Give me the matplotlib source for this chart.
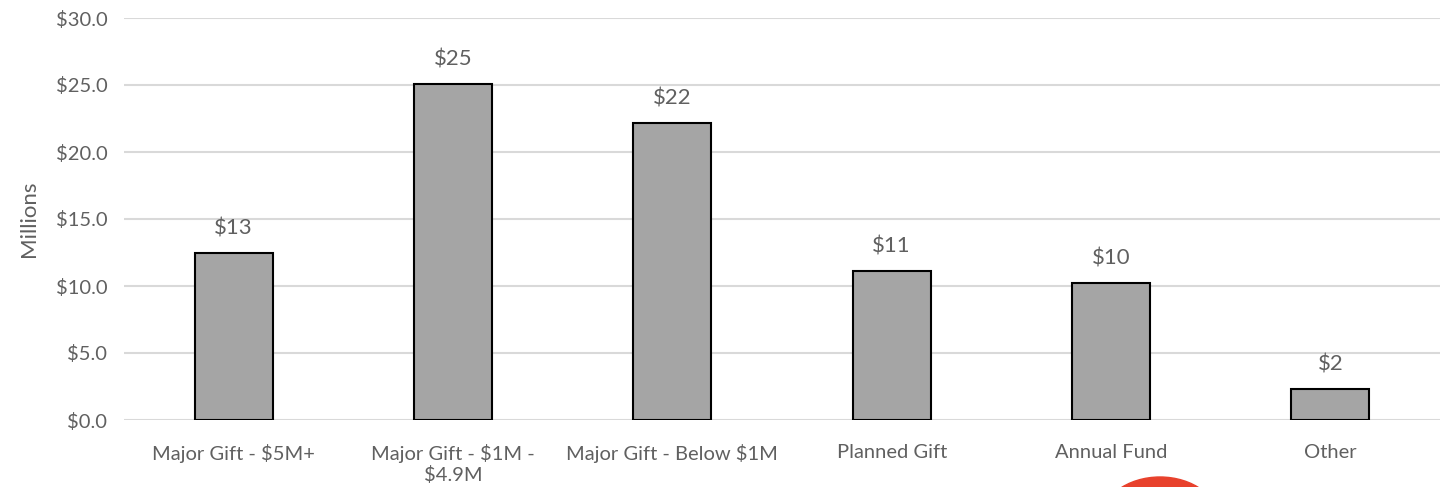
import matplotlib.pyplot as plt
from matplotlib.patches import Ellipse
import numpy as np

plt.rcParams['text.parse_math'] = False
plt.rcParams['font.family'] = ['Lato', 'DejaVu Sans']

categories = ['Major Gift - $5M+', 'Major Gift - $1M -\n$4.9M', 'Major Gift - Below $1M',
              'Planned Gift', 'Annual Fund', 'Other']
values = [12.45, 25.05, 22.15, 11.1, 10.2, 2.3]
labels = ['$13', '$25', '$22', '$11', '$10', '$2']
yticks = np.arange(0, 31, 5)

text_color = '#606060'

fig = plt.figure(figsize=(14.4, 4.87), dpi=100)
ax = fig.add_axes([124 / 1440, (487 - 420) / 487, 1316 / 1440, 402 / 487])

x = np.arange(len(categories))
ax.bar(x, values, width=0.355, color='#a5a5a5', edgecolor='black', linewidth=1.5, zorder=3)

for xi, v, lab in zip(x, values, labels):
    ax.text(xi, v + 1.1, lab, ha='center', va='bottom', fontsize=16, color=text_color)

ax.set_xlim(-0.5, len(categories) - 0.5)
ax.set_ylim(0, 30)
ax.set_yticks(yticks)
ax.set_yticklabels([f'${t:.1f}' for t in yticks])
ax.set_xticks(x)
ax.set_xticklabels(categories, linespacing=1.25)
ax.tick_params(axis='both', length=0, labelsize=14.5, colors=text_color)
ax.tick_params(axis='x', pad=17)
ax.tick_params(axis='y', pad=12)
ax.yaxis.grid(True, color='#d9d9d9', linewidth=1.5, zorder=0)
for spine in ax.spines.values():
    spine.set_visible(False)
ax.set_ylabel('Millions', fontsize=16, color=text_color, labelpad=12)

# partially cut-off red logo at the bottom edge
fig.patches.append(Ellipse((1160 / 1440, -35 / 487), 120 / 1440, 90 / 487,
                           transform=fig.transFigure, color='#e8412c', zorder=5))

fig.savefig('out.png', dpi=100)
